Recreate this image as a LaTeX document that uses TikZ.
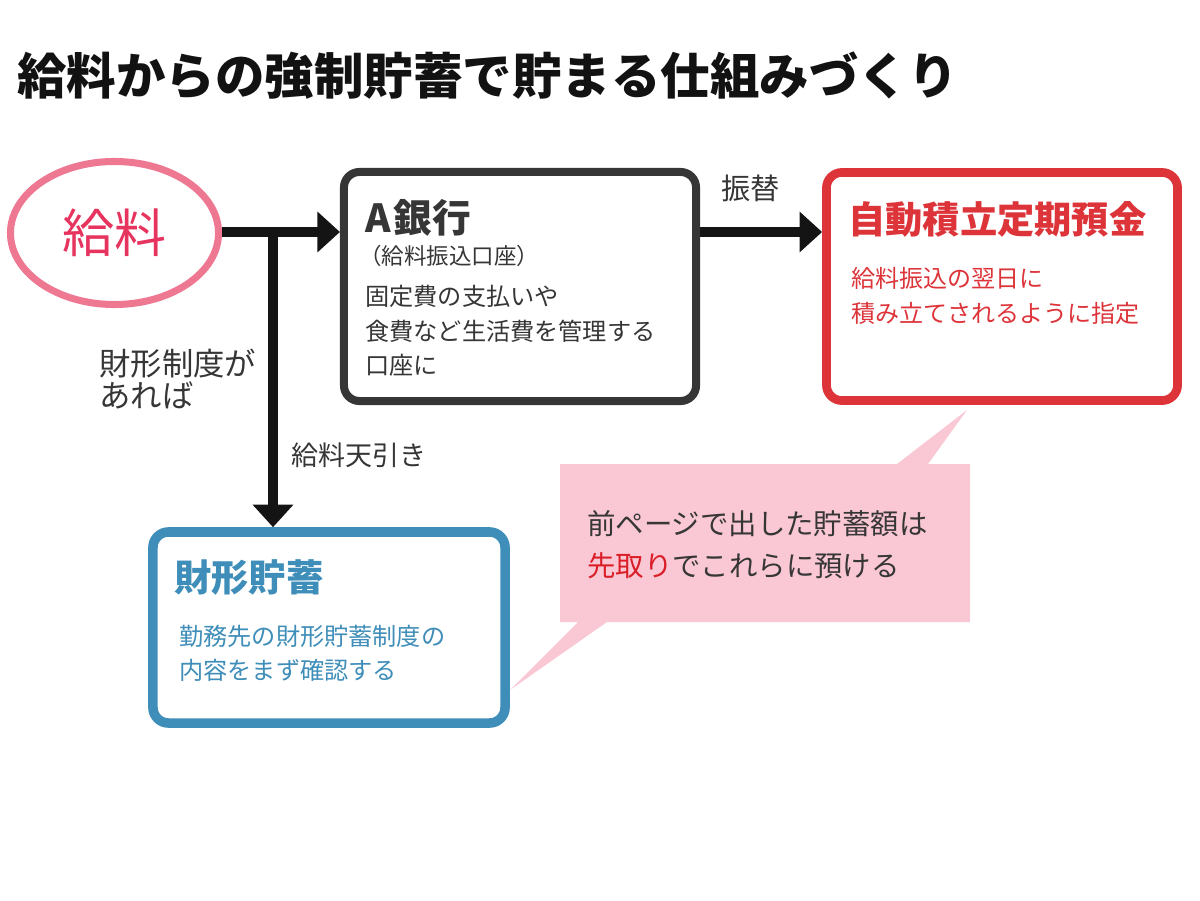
\documentclass[tikz,border=0pt]{standalone}
\usepackage{fontspec}
\usepackage{xcolor}
\usepackage{tikz}
\usetikzlibrary{
  arrows.meta,
  positioning,
  shapes.geometric}

\newfontfamily\jp{Noto Sans CJK JP}
\definecolor{salaryline}{HTML}{EE7892}
\definecolor{salarytext}{HTML}{E6345F}
\definecolor{bankgray}{HTML}{363636}
\definecolor{deposred}{HTML}{DD343A}
\definecolor{zaikeiblue}{HTML}{3E8EB9}
\definecolor{notepink}{HTML}{FAC8D4}
\definecolor{firstred}{HTML}{D91E28}

\begin{document}
\begin{tikzpicture}[x=0.025cm, y=-0.025cm,
        flow/.style={draw=black!92, line width=7pt, -{Triangle[length=16pt,width=28pt]}},
        box/.style={draw, rounded corners=11pt, fill=white, minimum width=8.8cm},
        txt/.style={inner sep=0pt, anchor=west, align=left, text=bankgray},
        headtxt/.style={inner sep=0pt, anchor=west, font={\jp\bfseries\fontsize{26.5}{30}\selectfont}},
        smalltxt/.style={txt, font={\jp\fontsize{17.2}{24.4}\selectfont}}]
        \useasboundingbox (0,0) rectangle (1200,900);

        \node[inner sep=0pt, anchor=west, text=black!93,
              font={\jp\bfseries\fontsize{35.2}{40}\selectfont}] (title) at (17,76)
              {給料からの強制貯蓄で貯まる仕組みづくり};

        % boxes
        \node[ellipse, draw=salaryline, line width=5pt, minimum width=5.2cm, minimum height=3.575cm,
              text=salarytext, font={\jp\fontsize{37}{40}\selectfont}] (salary) at (114.5,233) {給料};
        \node[box, draw=bankgray, line width=5.7pt, minimum height=5.725cm] (bankA) at (520,286.5) {};
        \node[box, draw=deposred, line width=6.2pt, minimum width=8.775cm, minimum height=5.7cm] (autodep) at (1002,286.5) {};
        \node[box, draw=zaikeiblue, line width=6.8pt, minimum height=4.775cm] (zaikei) at (329,627.5) {};

        % callout
        \fill[notepink] (560,464) -- (897,464) -- (967,410) -- (928,464) -- (970,464) -- (970,622)
            -- (607,622) -- (510,690) -- (578,622) -- (560,622) -- cycle;

        % arrows
        \coordinate (branch) at (273,232);
        \draw[flow] (branch) -- (branch |- zaikei.north);
        \draw[flow] (salary.east |- branch) -- (bankA.west |- branch);
        \draw[flow] (bankA.east |- branch) -- (autodep.west |- branch);

        % texts
        \node[headtxt, text=bankgray, font={\jp\bfseries\fontsize{27.5}{30}\selectfont}] (bankAhead) at (365,218) {A\kern2pt 銀行};
        \node[txt, font={\jp\fontsize{16}{20}\selectfont}] (bankAsub) at (359,256) {（給料振込口座）};
        \node[smalltxt] (bankAnote) at (365,331) {固定費の支払いや\\食費など生活費を管理する\\口座に};

        \node[headtxt, text=deposred] (autodephead) at (848,219) {自動積立定期預金};
        \node[smalltxt, text=deposred, font={\jp\fontsize{17.1}{24.9}\selectfont}] (autodepnote) at (851,295.5)
            {給料振込の翌日に\\積み立てされるように指定};

        \node[headtxt, text=zaikeiblue] (zaikeihead) at (174,577) {財形貯蓄};
        \node[smalltxt, text=zaikeiblue] (zaikeinote) at (179,653) {勤務先の財形貯蓄制度の\\内容をまず確認する};

        \node[txt, font={\jp\fontsize{20.2}{29.9}\selectfont}] (notetxt) at (587,545)
            {前ページで出した貯蓄額は\\{\color{firstred}先取り}でこれらに預ける};

        \node[txt, font={\jp\fontsize{22.3}{22.8}\selectfont}] (iflbl) at (99,379) {財形制度が\\あれば};
        \node[txt, font={\jp\fontsize{19.2}{22}\selectfont}] (cutlbl) at (291,455) {給料天引き};
        \node[txt, font={\jp\fontsize{20.8}{22}\selectfont}] (movelbl) at (721,188) {振替};
    \end{tikzpicture}
\end{document}
